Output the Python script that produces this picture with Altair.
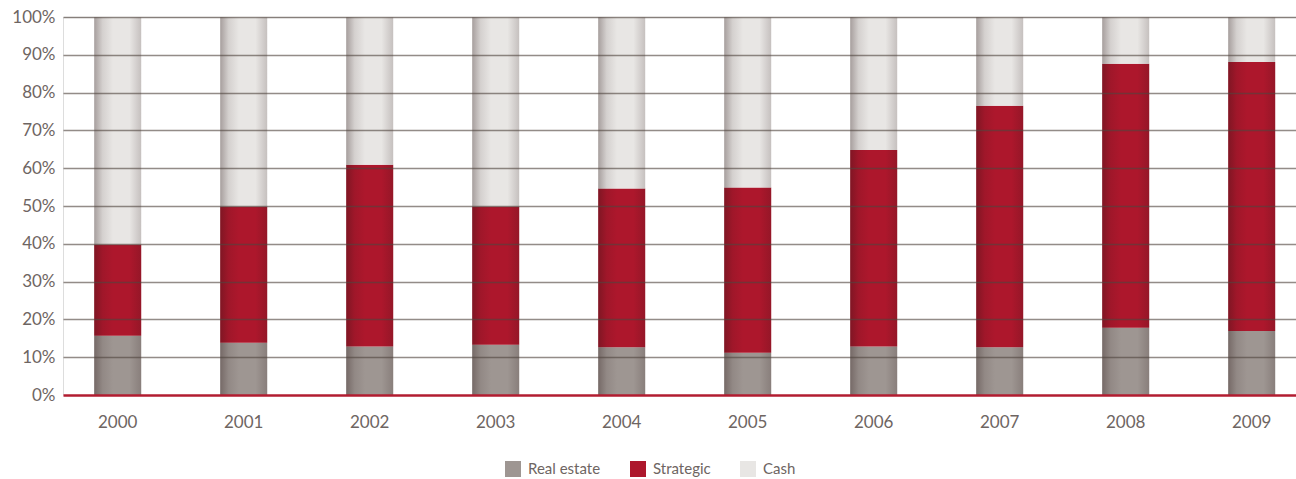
import altair as alt
import pandas as pd

# Portfolio composition by year, in percent of total
years = ["2000", "2001", "2002", "2003", "2004", "2005", "2006", "2007", "2008", "2009"]
real_estate = [15.7, 13.8, 12.8, 13.3, 12.6, 11.2, 12.8, 12.6, 17.8, 16.9]
strategic = [24.1, 36.1, 48.1, 36.6, 42.0, 43.7, 52.0, 63.9, 69.8, 71.2]
cash = [60.2, 50.1, 39.1, 50.1, 45.4, 45.1, 35.2, 23.5, 12.4, 11.9]

series_names = ["Real estate", "Strategic", "Cash"]
series_colors = ["#9e9692", "#ad172c", "#e8e6e4"]

rows = []
for name, rank, values in zip(series_names, [0, 1, 2], [real_estate, strategic, cash]):
    for yr, v in zip(years, values):
        rows.append({"year": yr, "series": name, "rank": rank, "share": v / 100.0})
df = pd.DataFrame(rows)

FONT = "Lato"
TEXT = "#6e6562"

x_enc = alt.X(
    "year:O",
    title=None,
    scale=alt.Scale(paddingInner=0.627, paddingOuter=0.2064, align=0.6),
    axis=alt.Axis(
        labelAngle=0, labelFont=FONT, labelFontSize=17, labelColor=TEXT,
        labelPadding=19, ticks=False, domain=False, grid=False,
    ),
)
y_enc = alt.Y(
    "share:Q",
    stack="zero",
    title=None,
    scale=alt.Scale(domain=[0, 1], nice=False),
    axis=alt.Axis(
        format="%", values=[i / 10 for i in range(11)],
        labelFont=FONT, labelFontSize=17, labelColor=TEXT, labelPadding=8,
        ticks=False, domain=False, grid=True, zindex=1,
        gridColor={"condition": {"test": "datum.value === 0", "value": "#b21c30"}, "value": "#51463f"},
        gridOpacity={"condition": {"test": "datum.value === 0", "value": 1}, "value": 0.62},
        gridWidth={"condition": {"test": "datum.value === 0", "value": 2.5}, "value": 1.5},
    ),
)

base = alt.Chart(df)

bars = base.mark_bar(stroke=None).encode(
    x=x_enc,
    y=y_enc,
    color=alt.Color(
        "series:N",
        scale=alt.Scale(domain=series_names, range=series_colors),
        legend=alt.Legend(
            title=None, orient="none", direction="horizontal",
            legendX=442, legendY=444, padding=0,
            symbolType="square", symbolSize=256, symbolStrokeWidth=0,
            labelFont=FONT, labelFontSize=15, labelColor=TEXT,
            labelOffset=7, columnPadding=29,
        ),
    ),
    order=alt.Order("rank:Q"),
)

# soft cylindrical shading across each bar segment
shade = alt.LinearGradient(
    gradient="linear", x1=0, x2=1, y1=0, y2=0,
    stops=[
        alt.GradientStop(offset=0, color="rgba(40,20,20,0.34)"),
        alt.GradientStop(offset=0.18, color="rgba(40,20,20,0.10)"),
        alt.GradientStop(offset=0.4, color="rgba(40,20,20,0)"),
        alt.GradientStop(offset=0.75, color="rgba(40,20,20,0)"),
        alt.GradientStop(offset=1, color="rgba(40,20,20,0.18)"),
    ],
)
shading = base.mark_bar(color=shade).encode(
    x=x_enc,
    y=y_enc,
    detail="series:N",
    order=alt.Order("rank:Q"),
)

chart = alt.layer(bars, shading).properties(
    width=1233,
    height=378,
    padding={"left": 63, "top": 17, "right": 0, "bottom": 84},
    autosize=alt.AutoSizeParams(type="none"),
).configure_view(stroke=None).configure(background="white")

chart.save("out.html", embed_options={"renderer": "svg", "actions": False})
